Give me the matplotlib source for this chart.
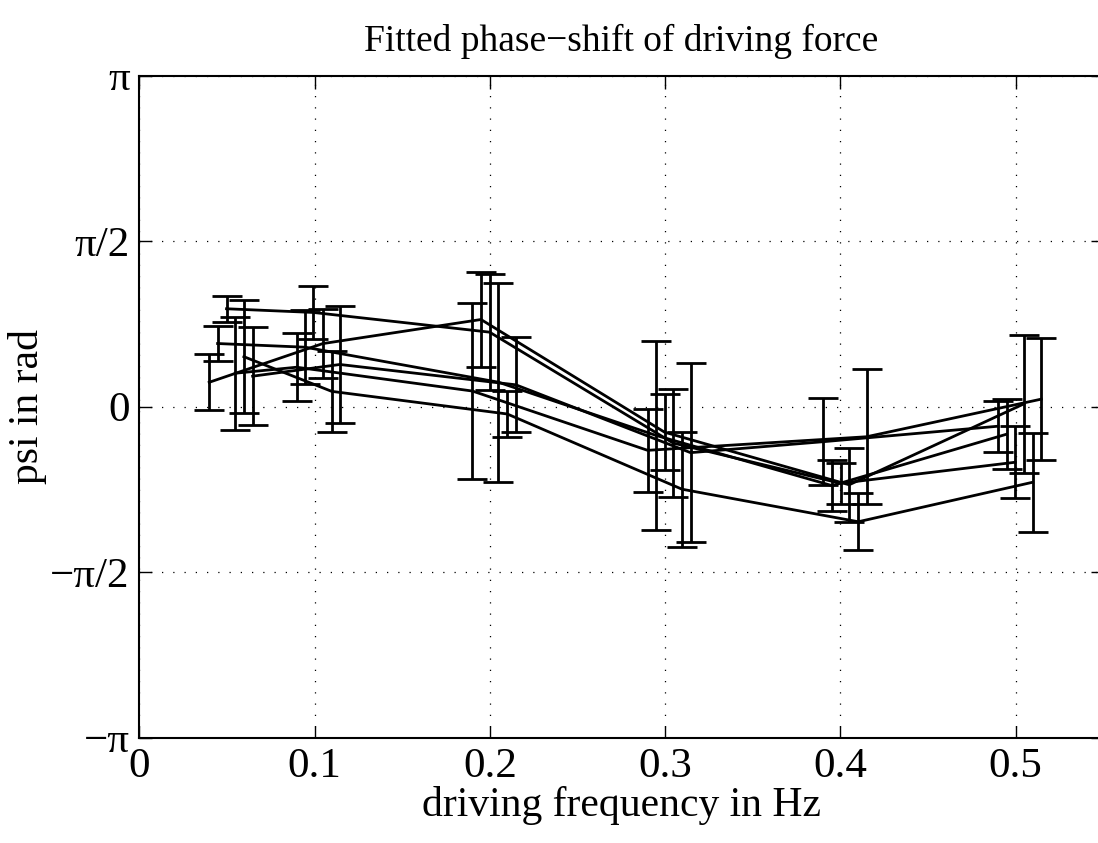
import numpy as np
import matplotlib
matplotlib.use('Agg')
import matplotlib.pyplot as plt

plt.rcParams['font.family'] = ['Liberation Serif', 'DejaVu Serif']

# measured phase shift (rad) and its error per run, each run at slightly shifted frequencies
freq_a = [0.0497, 0.0992, 0.1998, 0.3046, 0.4001, 0.4998]
psi_a = [0.929, 0.894, 0.707, -0.346, -0.728, -0.528]
err_a = [0.122, 0.252, 0.549, 0.510, 0.196, 0.343]

freq_b = [0.0398, 0.1045, 0.1949, 0.2997, 0.4050, 0.5047]
psi_b = [0.231, 0.598, 0.827, -0.243, -0.742, 0.026]
err_b = [0.266, 0.330, 0.454, 0.359, 0.351, 0.654]

freq_c = [0.0446, 0.0946, 0.2048, 0.2947, 0.3952, 0.4948]
psi_c = [0.599, 0.564, 0.232, -0.273, -0.750, -0.262]
err_c = [0.166, 0.353, 0.946, 0.900, 0.240, 0.334]

freq_d = [0.0646, 0.1144, 0.2148, 0.3145, 0.3902, 0.4900]
psi_d = [0.289, 0.400, 0.207, -0.437, -0.333, -0.186]
err_d = [0.464, 0.559, 0.451, 0.847, 0.412, 0.242]

freq_e = [0.0547, 0.0897, 0.1900, 0.2900, 0.4150, 0.5146]
psi_e = [0.317, 0.374, 0.148, -0.415, -0.286, 0.071]
err_e = [0.537, 0.322, 0.833, 0.392, 0.640, 0.578]

freq_f = [0.0596, 0.1097, 0.2099, 0.3096, 0.4102, 0.5097]
psi_f = [0.474, 0.145, -0.070, -0.784, -1.093, -0.718]
err_f = [0.538, 0.383, 0.220, 0.546, 0.269, 0.470]

runs = [(freq_a, psi_a, err_a), (freq_b, psi_b, err_b), (freq_c, psi_c, err_c),
        (freq_d, psi_d, err_d), (freq_e, psi_e, err_e), (freq_f, psi_f, err_f)]

x_ticks = [0, 0.1, 0.2, 0.3, 0.4, 0.5]
x_labels = ['0', '0.1', '0.2', '0.3', '0.4', '0.5']
y_ticks = [-np.pi, -np.pi / 2, 0, np.pi / 2, np.pi]
y_labels = ['\u2212\u03c0', '\u2212\u03c0/2', '0', '\u03c0/2', '\u03c0']

fig = plt.figure(figsize=(10.98, 8.43), dpi=100)
# axes run past the right edge of the picture, as in the original
ax = fig.add_axes([0.127, 0.1251, 0.8778, 0.7851])

for f, p, e in runs:
    ax.errorbar(f, p, yerr=e, color='k', lw=2.0, elinewidth=2.0,
                capsize=11, capthick=2.0, zorder=3)

ax.set_xlim(0, 0.55)
ax.set_ylim(-np.pi, np.pi)
ax.set_xticks(x_ticks)
ax.set_xticklabels(x_labels)
ax.set_yticks(y_ticks)
ax.set_yticklabels(y_labels)

ax.grid(True, color='k', linestyle=(0, (1, 8)), linewidth=0.9)
ax.set_axisbelow(True)
ax.tick_params(direction='in', top=True, right=True, length=9, width=1,
               labelsize=31, pad=7)
for s in ax.spines.values():
    s.set_linewidth(1.5)

ax.set_title('Fitted phase\u2212shift of driving force', fontsize=27, pad=18)
ax.set_xlabel('driving frequency in Hz', fontsize=30, labelpad=0)
ax.set_ylabel('psi in rad', fontsize=30, labelpad=2)

fig.savefig('out.png', dpi=100)
